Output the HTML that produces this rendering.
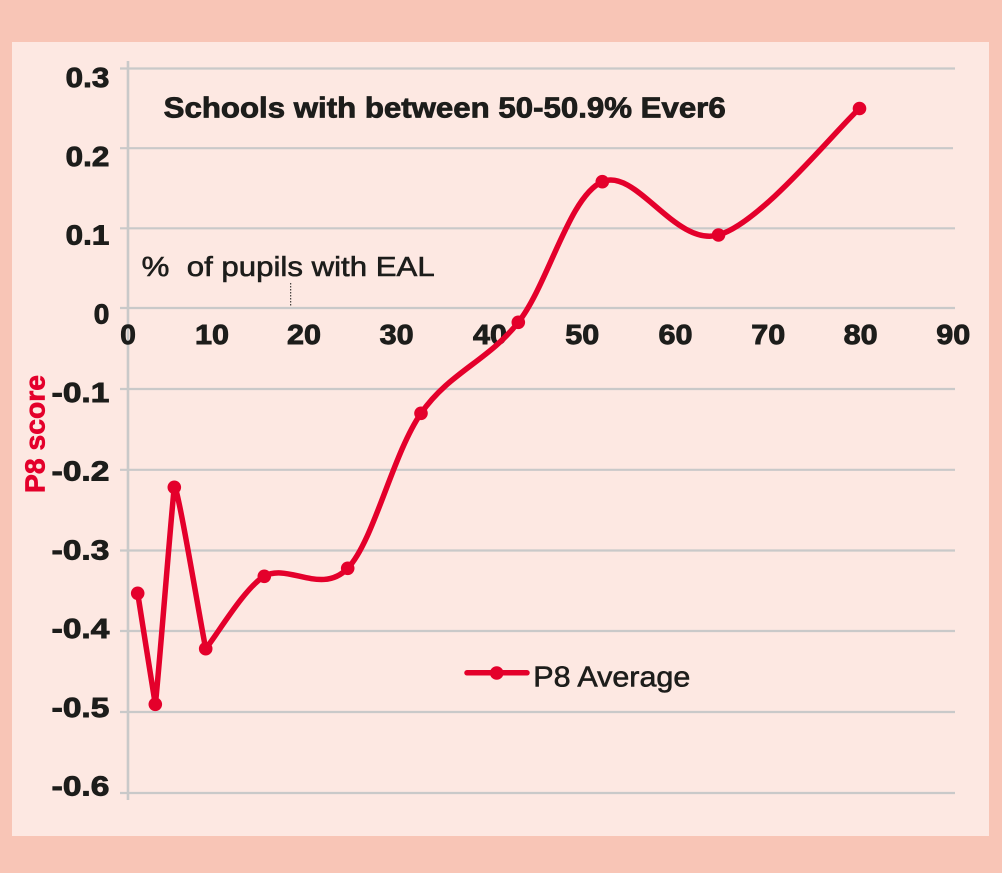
<!DOCTYPE html>
<html>
<head>
<meta charset="utf-8">
<style>
  html, body { margin: 0; padding: 0; }
  body { width: 1002px; height: 873px; background: #f8c5b6; overflow: hidden; }
  svg { display: block; }
  text { font-family: "Liberation Sans", sans-serif; }
</style>
</head>
<body>
<svg width="1002" height="873" viewBox="0 0 1002 873" xmlns="http://www.w3.org/2000/svg">
  <rect x="0" y="0" width="1002" height="873" fill="#f8c5b6"/>
  <rect x="12" y="42" width="977" height="794" fill="#fde8e2"/>

  <!-- gridlines -->
  <g stroke="#c9c9c9" stroke-width="2.2" fill="none">
    <line x1="120" y1="68.5" x2="955" y2="68.5"/>
    <line x1="120" y1="148.2" x2="953" y2="148.2"/>
    <line x1="120" y1="228.3" x2="955" y2="228.3"/>
    <line x1="120" y1="308" x2="955" y2="308"/>
    <line x1="120" y1="389" x2="955" y2="389"/>
    <line x1="120" y1="469.8" x2="955" y2="469.8"/>
    <line x1="120" y1="550.5" x2="955" y2="550.5"/>
    <line x1="120" y1="631" x2="955" y2="631"/>
    <line x1="120" y1="712" x2="955" y2="712"/>
    <line x1="120" y1="793" x2="955" y2="793"/>
    <line x1="128" y1="61" x2="128" y2="800" stroke-width="2.6"/>
  </g>

  <!-- y tick labels -->
  <g font-weight="bold" font-size="28" fill="#1d1d1b" stroke="#1d1d1b" stroke-width="0.9" text-anchor="end">
    <text x="109.3" y="87.2" textLength="43.6" lengthAdjust="spacingAndGlyphs">0.3</text>
    <text x="109.3" y="165.9" textLength="43.6" lengthAdjust="spacingAndGlyphs">0.2</text>
    <text x="109.3" y="244.6" textLength="43.6" lengthAdjust="spacingAndGlyphs">0.1</text>
    <text x="109.3" y="323.3">0</text>
    <text x="109.3" y="402" textLength="57.6" lengthAdjust="spacingAndGlyphs">-0.1</text>
    <text x="109.3" y="480.7" textLength="57.6" lengthAdjust="spacingAndGlyphs">-0.2</text>
    <text x="109.3" y="559.4" textLength="57.6" lengthAdjust="spacingAndGlyphs">-0.3</text>
    <text x="109.3" y="638.1" textLength="57.6" lengthAdjust="spacingAndGlyphs">-0.4</text>
    <text x="109.3" y="716.8" textLength="57.6" lengthAdjust="spacingAndGlyphs">-0.5</text>
    <text x="109.3" y="795.5" textLength="57.6" lengthAdjust="spacingAndGlyphs">-0.6</text>
  </g>

  <!-- x tick labels -->
  <g font-weight="bold" font-size="28" fill="#1d1d1b" stroke="#1d1d1b" stroke-width="0.9" text-anchor="middle">
    <text x="128" y="344">0</text>
    <text x="212" y="344" textLength="34" lengthAdjust="spacingAndGlyphs">10</text>
    <text x="304" y="344" textLength="34" lengthAdjust="spacingAndGlyphs">20</text>
    <text x="396.7" y="344" textLength="34" lengthAdjust="spacingAndGlyphs">30</text>
    <text x="490" y="344" textLength="34" lengthAdjust="spacingAndGlyphs">40</text>
    <text x="582.3" y="344" textLength="34" lengthAdjust="spacingAndGlyphs">50</text>
    <text x="675.5" y="344" textLength="34" lengthAdjust="spacingAndGlyphs">60</text>
    <text x="768.3" y="344" textLength="34" lengthAdjust="spacingAndGlyphs">70</text>
    <text x="860.7" y="344" textLength="34" lengthAdjust="spacingAndGlyphs">80</text>
    <text x="953.3" y="344" textLength="34" lengthAdjust="spacingAndGlyphs">90</text>
  </g>

  <!-- title -->
  <text x="163.7" y="117.3" font-weight="bold" font-size="28.5" fill="#1d1d1b" stroke="#1d1d1b" stroke-width="0.8" textLength="562" lengthAdjust="spacingAndGlyphs">Schools with between 50-50.9% Ever6</text>

  <!-- x axis caption -->
  <text x="141.7" y="276" font-size="28" fill="#1d1d1b" stroke="#1d1d1b" stroke-width="0.6" textLength="293" lengthAdjust="spacingAndGlyphs" xml:space="preserve">%  of pupils with EAL</text>
  <line x1="290.7" y1="283" x2="290.7" y2="307" stroke="#1d1d1b" stroke-width="1" stroke-dasharray="1.5,1.5"/>

  <!-- y axis title -->
  <text transform="translate(44.3,434) rotate(-90)" text-anchor="middle" font-weight="bold" font-size="28" fill="#e4002b" stroke="#e4002b" stroke-width="0.7" textLength="118" lengthAdjust="spacingAndGlyphs">P8 score</text>

  <!-- series -->
  <path d="M137.7,593.3
           C140.5,612 153,690 155.3,704.3
           C157.5,690 171.5,510 174.3,487.3
           C176.5,478 200,620 205.7,648.7
           C215,638 245,587 264.3,576.3
           C288,562.9 321.6,595.5 347.7,568.3
           C373.8,541.1 392.6,454.3 421,413.3
           C449.4,372.3 488.1,360.9 518.3,322.3
           C548.5,283.7 568.9,196.3 602.3,181.7
           C635.7,167.1 675.6,247.2 718.5,235
           C761.4,222.8 836,129.6 859.5,108.5"
        fill="none" stroke="#e4002b" stroke-width="5.5" stroke-linejoin="round" stroke-linecap="round"/>
  <g fill="#e4002b">
    <circle cx="137.7" cy="593.3" r="6.8"/>
    <circle cx="155.3" cy="704.3" r="6.8"/>
    <circle cx="174.3" cy="487.3" r="6.8"/>
    <circle cx="205.7" cy="648.7" r="6.8"/>
    <circle cx="264.3" cy="576.3" r="6.8"/>
    <circle cx="347.7" cy="568.3" r="6.8"/>
    <circle cx="421" cy="413.3" r="6.8"/>
    <circle cx="518.3" cy="322.3" r="6.8"/>
    <circle cx="602.3" cy="181.7" r="6.8"/>
    <circle cx="718.5" cy="235" r="6.8"/>
    <circle cx="859.5" cy="108.5" r="6.8"/>
  </g>

  <!-- legend -->
  <line x1="467" y1="672.8" x2="527" y2="672.8" stroke="#e4002b" stroke-width="5.5" stroke-linecap="round"/>
  <circle cx="496.7" cy="673" r="6.8" fill="#e4002b"/>
  <text x="533.3" y="686.7" font-size="29" fill="#1d1d1b" stroke="#1d1d1b" stroke-width="0.6" textLength="157" lengthAdjust="spacingAndGlyphs">P8 Average</text>
</svg>
</body>
</html>
